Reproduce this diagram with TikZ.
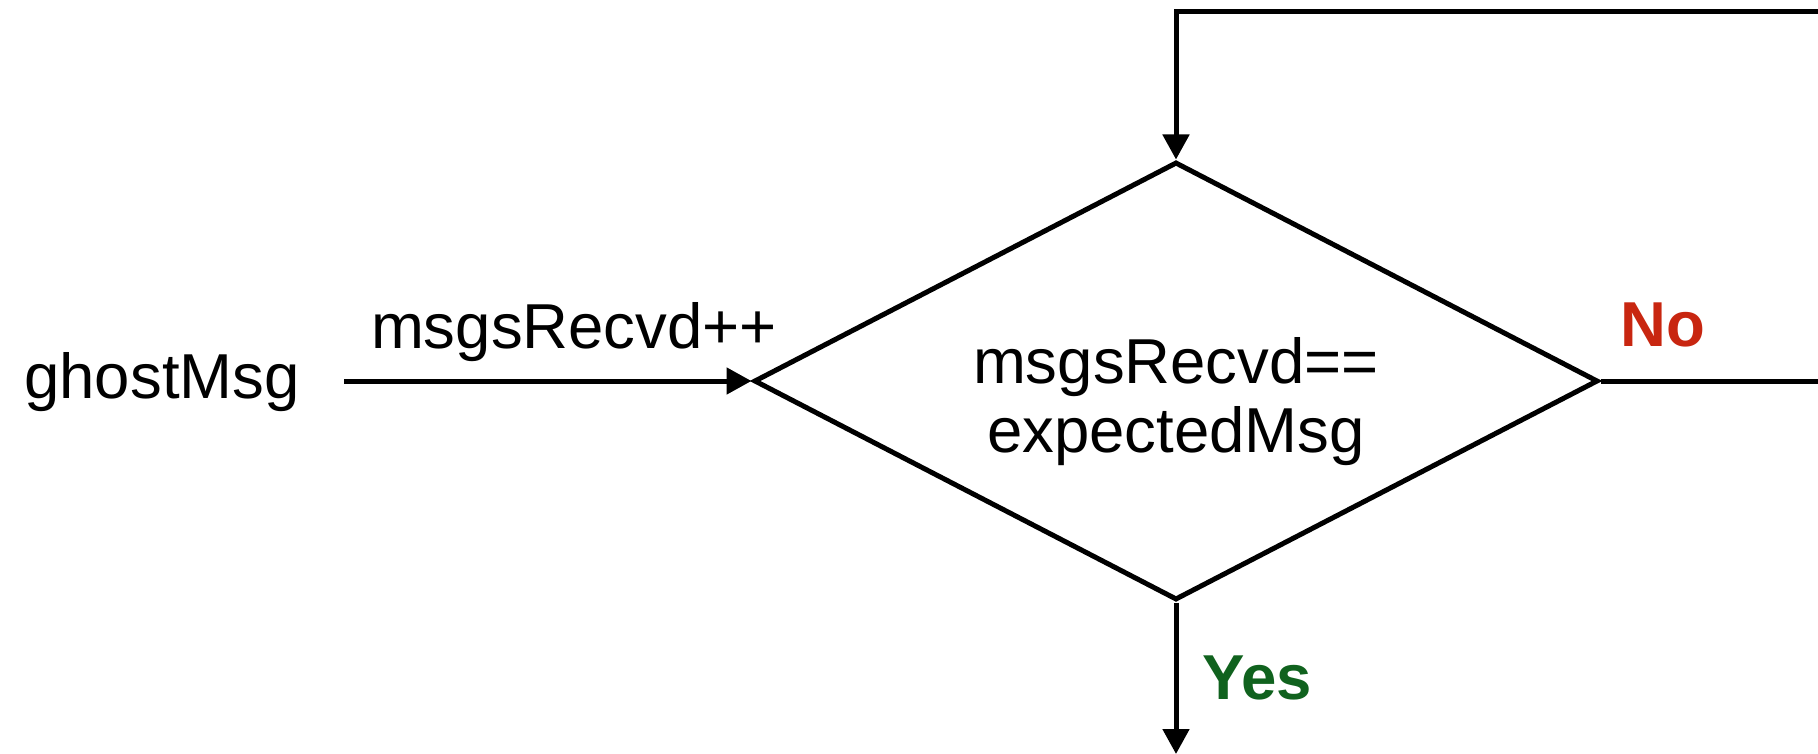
\documentclass[tikz,border=0pt]{standalone}
\usepackage{fontspec}
\setmainfont{Liberation Sans}
\usetikzlibrary{shapes.geometric,arrows.meta}
\definecolor{nored}{RGB}{200,38,16}
\definecolor{yesgreen}{RGB}{16,98,30}
\begin{document}
\begin{tikzpicture}[x=1pt,y=-1pt,
  conn/.style={line width=5pt,-{Triangle[width=26pt,length=25pt]}},
  plain/.style={line width=5pt},
  lbl/.style={font=\fontsize{63.5}{70}\selectfont,inner sep=0pt,anchor=base},
  decision/.style={draw,line width=5pt,shape=diamond,minimum width=844pt,minimum height=438pt,inner sep=0pt,aspect=1.927}]
\useasboundingbox (0,0) rectangle (1818,754);
\node[decision] (d) at (1176,381) {};
\node[lbl] (dt1) at (1176,383) {msgsRecvd==};
\node[lbl] (dt2) at (1176,452) {expectedMsg};
\node[lbl] (g) at (162,398) {ghostMsg};
\node[lbl] (inc) at (574,348) {msgsRecvd++};
\node[lbl,font=\fontsize{63.5}{70}\selectfont\bfseries,text=nored] (no) at (1663,346) {No};
\node[lbl,font=\fontsize{63.5}{70}\selectfont\bfseries,text=yesgreen] (yes) at (1257,699) {Yes};
\coordinate (gs) at (344,381);
\coordinate (re) at (1818,381);
\coordinate (tr) at (1818,12);
\coordinate (be) at (1176,754);
\draw[conn] (gs) -- (d.west);
\draw[plain] (d.east) -- (re);
\draw[conn] (tr) -| (d.north);
\draw[conn] (d.south) -- (be);
\end{tikzpicture}
\end{document}
